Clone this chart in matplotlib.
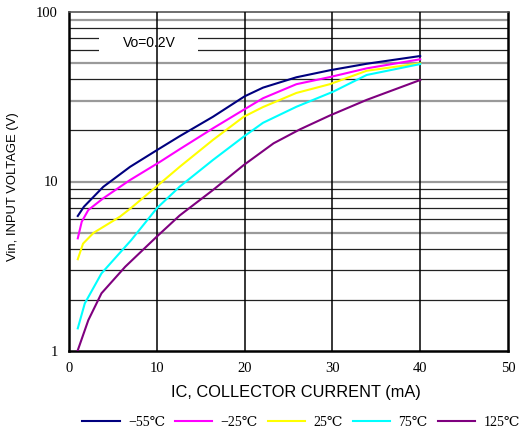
import matplotlib
matplotlib.use("Agg")
import matplotlib.pyplot as plt
import numpy as np

# ---- data ----
ic_m55 = [1.0, 1.7, 3.9, 6.95, 10.0, 12.6, 16.4, 20.0, 22.1, 25.9, 29.7, 33.9, 40.0]
vin_m55 = [6.26, 7.1, 9.3, 12.2, 15.3, 18.5, 24.1, 31.8, 35.8, 41.2, 45.3, 49.5, 55.0]

ic_m25 = [1.0, 1.45, 2.2, 3.9, 6.95, 10.4, 12.6, 16.4, 19.9, 22.1, 25.9, 29.7, 33.9, 40.0]
vin_m25 = [4.62, 5.79, 6.79, 7.96, 10.2, 13.1, 15.5, 20.6, 26.5, 31.0, 37.5, 41.3, 46.5, 52.6]

ic_25 = [1.0, 1.6, 2.8, 5.8, 7.1, 10.4, 12.6, 16.4, 19.9, 22.1, 25.9, 29.7, 33.9, 40.0]
vin_25 = [3.48, 4.3, 4.98, 6.2, 7.0, 9.76, 12.2, 17.6, 24.1, 27.5, 33.3, 37.5, 45.0, 49.8]

ic_75 = [1.0, 1.8, 3.7, 7.1, 10.0, 12.6, 16.4, 19.9, 22.1, 25.9, 30.1, 33.9, 40.0]
vin_75 = [1.36, 1.91, 2.87, 4.52, 6.95, 9.32, 13.4, 18.4, 22.2, 27.6, 33.9, 42.5, 49.3]

ic_125 = [1.0, 2.2, 3.7, 6.4, 10.0, 12.6, 16.4, 19.9, 23.3, 26.3, 29.7, 33.9, 40.0]
vin_125 = [1.01, 1.52, 2.19, 3.14, 4.73, 6.3, 8.91, 12.5, 16.8, 20.3, 24.5, 30.3, 39.7]

labels = ["\u221255\u2103", "\u221225\u2103", "25\u2103", "75\u2103", "125\u2103"]
colors = ["#00007f", "#ff00ff", "#ffff00", "#00ffff", "#7f007f"]

x_ticks = [0, 10, 20, 30, 40, 50]
y_ticks = [1, 10, 100]
y_tick_labels = ["1", "10", "100"]

serif = ["Liberation Serif", "DejaVu Serif", "DejaVu Sans"]
sans = ["Liberation Sans", "DejaVu Sans"]

fig = plt.figure(figsize=(5.23, 4.34), dpi=100)
ax = fig.add_axes([69/523, 1-351/434, (508-69)/523, (351-12)/434])
ax.set_yscale("log")
ax.set_xlim(0, 50)
ax.set_ylim(1, 100)

# horizontal grid lines (minor log positions)
grey_vals = [90, 50, 30, 10, 5]
for dec in [1, 10]:
    for m in range(2, 10):
        v = m * dec
        if v in grey_vals:
            ax.axhline(v, color="#9a9a9a", lw=1.6, zorder=1)
        else:
            ax.axhline(v, color="#222222", lw=0.9, zorder=1)
ax.axhline(10, color="#9a9a9a", lw=1.6, zorder=1)

# white box behind annotation, hiding horizontal lines
ax.fill_between([3.4, 14.7], 56, 76, color="white", zorder=2, lw=0)
ax.text(9.1, 65.6, "Vo=0.2V", ha="center", va="center", fontsize=10,
        family=sans, zorder=3)

# vertical grid lines
for xv in [10, 20, 30, 40]:
    ax.axvline(xv, color="black", lw=1.1, zorder=4)

series = [(ic_m55, vin_m55), (ic_m25, vin_m25), (ic_25, vin_25),
          (ic_75, vin_75), (ic_125, vin_125)]
handles = []
for (xs, ys), c, lab in zip(series, colors, labels):
    h, = ax.plot(xs, ys, color=c, lw=1.5, label=lab, zorder=5,
                 solid_joinstyle="round")
    handles.append(h)

for s in ax.spines.values():
    s.set_linewidth(1.8)
    s.set_color("black")
ax.spines["top"].set_linewidth(1.2)
ax.spines["top"].set_color("#555555")

ax.set_xticks(x_ticks)
ax.set_xticklabels([str(t) for t in x_ticks], family=serif, fontsize=10.5)
ax.set_yticks(y_ticks)
ax.set_yticklabels(y_tick_labels, family=serif, fontsize=10.5)
ax.yaxis.set_minor_locator(matplotlib.ticker.NullLocator())
ax.tick_params(length=0, pad=8)

ax.set_xlabel("IC, COLLECTOR CURRENT (mA)", family=sans, fontsize=11.8)
ax.xaxis.set_label_coords((296-69)/439, (351-393)/339)
ax.xaxis.label.set_va("center")
ax.set_ylabel("Vin, INPUT VOLTAGE (V)", family=sans, fontsize=9.4)
ax.yaxis.set_label_coords((13-69)/439, (351-186.7)/339)
ax.yaxis.label.set_va("center")

leg = fig.legend(handles=handles, labels=labels, loc="center",
                 bbox_to_anchor=(301/523, 1-422/434), ncol=5, frameon=False,
                 handlelength=2.7, handletextpad=0.6, columnspacing=0.7,
                 prop={"family": serif, "size": 10})

fig.savefig("out.png", dpi=100)
